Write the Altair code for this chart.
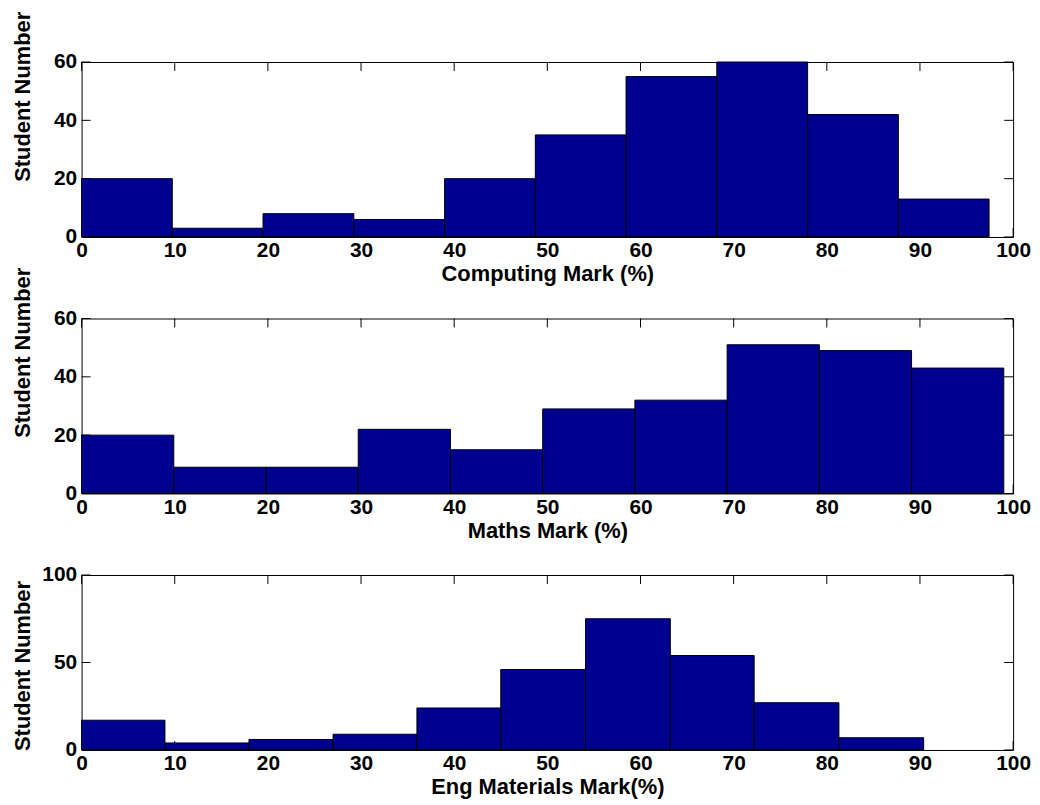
import altair as alt
import pandas as pd

# ---------------- data ----------------
x_ticks = [0, 10, 20, 30, 40, 50, 60, 70, 80, 90, 100]

comp_edges = [0, 9.74, 19.48, 29.23, 38.97, 48.71, 58.45, 68.19, 77.94, 87.68, 97.42]
comp_counts = [20, 3, 8, 6, 20, 35, 55, 60, 42, 13]

math_edges = [0, 9.9, 19.8, 29.7, 39.6, 49.5, 59.4, 69.3, 79.2, 89.1, 99.0]
math_counts = [20, 9, 9, 22, 15, 29, 32, 51, 49, 43]

eng_edges = [0, 8.95, 17.97, 27.0, 36.0, 45.0, 54.1, 63.2, 72.2, 81.3, 90.4]
eng_counts = [17, 4, 6, 9, 24, 46, 75, 54, 27, 7]

y_ticks_60 = [0, 20, 40, 60]
y_ticks_100 = [0, 50, 100]

# ---------------- style ----------------
W, H = 937, 176
TICK = 9
BAR = "#00008F"
FONT = "Liberation Sans"
LABEL_SIZE = 21
TITLE_SIZE = 22


def panel(edges, counts, ymax, yticks, xtitle, ytitle_center):
    bars_df = pd.DataFrame({"start": edges[:-1], "end": edges[1:], "count": counts})
    xs = alt.Scale(domain=[0, 100], nice=False, zero=False)
    ys = alt.Scale(domain=[0, ymax], nice=False)

    xaxis = alt.Axis(
        values=x_ticks, title=xtitle, grid=False, ticks=False, tickSize=0,
        domain=False, labelFont=FONT, labelFontSize=LABEL_SIZE,
        labelFontWeight="bold", labelColor="black", labelPadding=3,
        labelFlush=False, labelOverlap=False,
        titleFont=FONT, titleFontSize=TITLE_SIZE, titleFontWeight="bold",
        titleColor="black", titleX=W / 2, titleY=44,
        titleBaseline="alphabetic", titleAlign="center")
    yaxis = alt.Axis(
        values=yticks, title="Student Number", grid=False, ticks=False,
        tickSize=0, domain=False, labelFont=FONT, labelFontSize=LABEL_SIZE,
        labelFontWeight="bold", labelColor="black", labelPadding=5,
        labelOverlap=False, labelFlush=False,
        titleFont=FONT, titleFontSize=TITLE_SIZE, titleFontWeight="bold",
        titleColor="black", titleAngle=270, titleX=-52, titleY=ytitle_center,
        titleBaseline="alphabetic", titleAlign="center")

    bars = alt.Chart(bars_df).mark_rect(
        fill=BAR, stroke="black", strokeWidth=1
    ).encode(
        x=alt.X("start:Q", scale=xs, axis=xaxis),
        x2="end:Q",
        y=alt.Y("count:Q", scale=ys, axis=yaxis),
        y2=alt.datum(0),
    )

    xt = pd.DataFrame({"v": x_ticks})
    yt = pd.DataFrame({"v": yticks})
    rule = dict(color="black", strokeWidth=1)
    top_ticks = alt.Chart(xt).mark_rule(**rule).encode(
        x=alt.X("v:Q", scale=xs, axis=xaxis), y=alt.value(0), y2=alt.value(TICK))
    bottom_ticks = alt.Chart(xt).mark_rule(**rule).encode(
        x=alt.X("v:Q", scale=xs, axis=xaxis), y=alt.value(H), y2=alt.value(H - TICK))
    left_ticks = alt.Chart(yt).mark_rule(**rule).encode(
        y=alt.Y("v:Q", scale=ys, axis=yaxis), x=alt.value(0), x2=alt.value(TICK))
    right_ticks = alt.Chart(yt).mark_rule(**rule).encode(
        y=alt.Y("v:Q", scale=ys, axis=yaxis), x=alt.value(W), x2=alt.value(W - TICK))

    return alt.layer(bottom_ticks, left_ticks, right_ticks, top_ticks, bars).properties(
        width=W, height=H)


p1 = panel(comp_edges, comp_counts, 60, y_ticks_60, "Computing Mark (%)", 34.5)
p2 = panel(math_edges, math_counts, 60, y_ticks_60, "Maths Mark (%)", 34)
p3 = panel(eng_edges, eng_counts, 100, y_ticks_100, "Eng Materials Mark(%)", 91)

chart = alt.vconcat(p1, p2, p3, spacing=82, bounds="flush").properties(
    padding={"left": 3, "top": 0, "right": 0, "bottom": 0},
    background="white",
).configure_view(
    stroke="black", strokeWidth=1
)

chart.save("out.html", embed_options={"renderer": "svg", "actions": False})
